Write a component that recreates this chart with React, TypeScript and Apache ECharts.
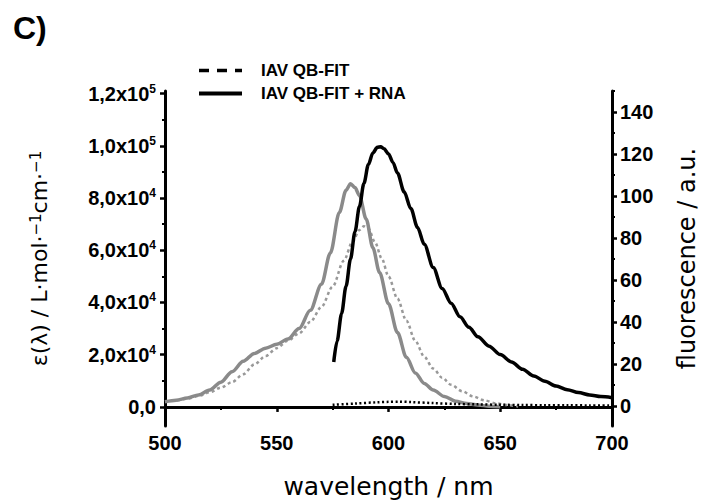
import React, { useEffect, useRef } from 'react';
import * as echarts from 'echarts';

// Absorbance, IAV QB-FIT (gray dashed) — wavelength (nm) / ε (L·mol⁻¹·cm⁻¹)
const absFreeWl = [500, 505, 510, 515, 520, 525, 530, 535, 540, 545, 550, 555, 560, 565, 570, 575, 580, 584, 587, 589, 591, 594, 597, 600, 604, 608, 612, 616, 620, 624, 628, 633, 638, 643, 648, 653, 658];
const absFree = [2000, 2500, 3200, 4200, 5600, 7400, 9500, 12500, 16300, 19500, 22500, 25400, 28200, 32500, 38300, 46100, 56000, 63500, 67800, 69200, 68300, 63000, 56800, 50000, 41500, 33000, 25300, 19200, 14700, 11200, 8500, 6000, 4000, 2500, 1400, 700, 200];

// Absorbance, IAV QB-FIT + RNA (gray solid)
const absRnaWl = [500, 505, 510, 515, 520, 525, 530, 535, 540, 545, 550, 555, 560, 565, 570, 574, 578, 581, 583, 585, 587, 590, 593, 596, 600, 604, 608, 612, 616, 620, 625, 630, 635, 640, 645, 650];
const absRna = [2000, 2600, 3400, 4600, 6500, 9500, 13500, 17500, 20500, 22500, 24000, 26000, 30000, 37000, 47000, 59000, 74500, 83000, 85500, 84000, 81000, 72000, 61000, 51500, 39500, 28500, 19000, 13000, 9000, 6500, 4000, 2200, 1300, 700, 300, 100];

// Fluorescence, IAV QB-FIT (black dotted)
const fluFreeWl = [575, 585, 595, 600, 605, 610, 620, 630, 640, 650, 660, 670, 680, 690, 700];
const fluFree = [0.6, 1.2, 1.8, 2.0, 2.1, 1.9, 1.4, 1.0, 0.8, 0.6, 0.5, 0.4, 0.4, 0.3, 0.3];

// Fluorescence, IAV QB-FIT + RNA (black solid)
const fluRnaWl = [575.5, 577, 579, 581, 583, 585, 587, 589, 591, 593, 595, 596.5, 598, 600, 602, 604, 607, 610, 613, 616, 620, 624, 628, 632, 636, 640, 645, 650, 655, 660, 665, 670, 675, 680, 685, 690, 695, 700];
const fluRna = [21, 31, 44, 57, 70, 83, 95, 106, 115, 120.5, 123.2, 123.5, 122.5, 120, 116, 111, 102, 94, 85, 77, 66, 56, 49, 42.5, 37.5, 33, 28.5, 24.5, 21, 17.5, 14.3, 11.8, 9.5, 7.8, 6.4, 5.3, 4.5, 4];

// Tick values
const xTicks = [500, 550, 600, 650, 700];
const leftMajor = [0, 20000, 40000, 60000, 80000, 100000, 120000];
const leftMinor = [10000, 30000, 50000, 70000, 90000, 110000];
const rightMajor = [0, 20, 40, 60, 80, 100, 120, 140];
const rightMinor = [10, 30, 50, 70, 90, 110, 130, 150];

const seriesNames = ['IAV QB-FIT', 'IAV QB-FIT + RNA'];

const zip = (xs: number[], ys: number[]) => xs.map((x, i) => [x, ys[i]]);

const ARIAL = '"Liberation Sans", Arial, sans-serif';
const NAMEFONT = '"DejaVu Sans", sans-serif';

const leftLabel = (v: number) => {
  if (v === 0) return '{b|0,0}';
  const e = Math.floor(Math.log10(v) + 1e-9);
  const m = (v / Math.pow(10, e)).toFixed(1).replace('.', ',');
  return `{b|${m}x10}{sup|${e}}`;
};

const hidden = { color: 'rgba(0,0,0,0)', borderColor: 'rgba(0,0,0,0)', borderWidth: 0, opacity: 0 };

export default function App() {
  const ref = useRef<HTMLDivElement>(null);
  useEffect(() => {
    document.body.style.margin = '0';
    const chart = echarts.init(ref.current!, null, { renderer: 'svg' });
    const axisLine = { show: true, lineStyle: { color: '#000', width: 3 } };
    const tickLabel = { color: '#000', fontSize: 20, fontWeight: 'bold' as const, fontFamily: ARIAL };
    chart.setOption({
      animation: false,
      backgroundColor: '#fff',
      grid: { left: 165, right: 93, top: 91, bottom: 78 },
      legend: {
        orient: 'vertical',
        left: 192,
        top: 57,
        itemWidth: 43,
        itemHeight: 17,
        itemGap: 6,
        selectedMode: false,
        textStyle: { color: '#000', fontSize: 17, fontWeight: 'bold', fontFamily: ARIAL, padding: [0, 0, 0, 14] },
        data: [
          { name: seriesNames[0], lineStyle: { color: '#000', width: 3.5, type: [10, 8] }, itemStyle: hidden },
          { name: seriesNames[1], lineStyle: { color: '#000', width: 4, type: 'solid' }, itemStyle: hidden },
        ],
      },
      graphic: [
        { type: 'text', left: 13, top: 12, style: { text: 'C)', font: `bold 32px ${ARIAL}`, fill: '#000' } },
      ],
      xAxis: {
        type: 'value',
        min: 500,
        max: 700,
        interval: 50,
        axisLine,
        axisTick: { show: true, length: 5, lineStyle: { color: '#000', width: 2.5 } },
        minorTick: { show: true, splitNumber: 2, length: 3, lineStyle: { color: '#000', width: 2 } },
        axisLabel: { ...tickLabel, margin: 7, customValues: xTicks },
        splitLine: { show: false },
        minorSplitLine: { show: false },
        name: 'wavelength / nm',
        nameLocation: 'middle',
        nameGap: 48,
        nameTextStyle: { color: '#000', fontSize: 25, fontFamily: NAMEFONT },
      },
      yAxis: [
        {
          type: 'value',
          position: 'left',
          min: -7300,
          max: 121000,
          axisLine,
          axisTick: { show: true, customValues: leftMajor, length: 5, lineStyle: { color: '#000', width: 2.5 } },
          axisLabel: {
            ...tickLabel,
            margin: 9,
            customValues: leftMajor,
            formatter: leftLabel,
            rich: {
              b: { fontSize: 20, fontWeight: 'bold', fontFamily: ARIAL, color: '#000', lineHeight: 22 },
              sup: { fontSize: 12, fontWeight: 'bold', fontFamily: ARIAL, color: '#000', lineHeight: 12, verticalAlign: 'top' },
            },
          },
          splitLine: { show: false },
          name: 'ε(λ) / L·mol·{sup|−1}cm·{sup|−1}',
          nameLocation: 'middle',
          nameRotate: 90,
          nameGap: 115,
          nameTextStyle: {
            color: '#000',
            fontSize: 22,
            fontFamily: NAMEFONT,
            rich: { sup: { fontSize: 15, fontFamily: NAMEFONT, color: '#000', verticalAlign: 'top', lineHeight: 15 } },
          },
        },
        {
          type: 'value',
          position: 'right',
          min: -9.5,
          max: 150,
          axisLine,
          axisTick: { show: true, customValues: rightMajor, length: 5, lineStyle: { color: '#000', width: 2.5 } },
          axisLabel: { ...tickLabel, margin: 8, customValues: rightMajor },
          splitLine: { show: false },
          name: 'fluorescence / a.u.',
          nameLocation: 'middle',
          nameRotate: 90,
          nameGap: 63,
          nameTextStyle: { color: '#000', fontSize: 24, fontFamily: NAMEFONT },
        },
        {
          type: 'value',
          position: 'left',
          min: -7300,
          max: 121000,
          axisLine: { show: false },
          axisTick: { show: true, customValues: leftMinor, length: 3, lineStyle: { color: '#000', width: 2 } },
          axisLabel: { show: false },
          splitLine: { show: false },
        },
        {
          type: 'value',
          position: 'right',
          min: -9.5,
          max: 150,
          axisLine: { show: false },
          axisTick: { show: true, customValues: rightMinor, length: 3, lineStyle: { color: '#000', width: 2 } },
          axisLabel: { show: false },
          splitLine: { show: false },
        },
      ],
      series: [
        {
          name: seriesNames[0], type: 'line', yAxisIndex: 0, data: zip(absFreeWl, absFree),
          symbol: 'none', smooth: 0.3, smoothMonotone: 'x',
          lineStyle: { color: '#999', width: 2.5, type: [3, 3] },
        },
        {
          name: seriesNames[1], type: 'line', yAxisIndex: 0, data: zip(absRnaWl, absRna),
          symbol: 'none', smooth: 0.3, smoothMonotone: 'x',
          lineStyle: { color: '#8a8a8a', width: 3.5 },
        },
        {
          name: seriesNames[0], type: 'line', yAxisIndex: 1, data: zip(fluFreeWl, fluFree),
          symbol: 'none', smooth: 0.3,
          lineStyle: { color: '#000', width: 2.5, type: [2, 2.5] },
        },
        {
          name: seriesNames[1], type: 'line', yAxisIndex: 1, data: zip(fluRnaWl, fluRna),
          symbol: 'none', smooth: 0.3, smoothMonotone: 'x',
          lineStyle: { color: '#000', width: 3.5 },
        },
      ],
    });
    return () => chart.dispose();
  }, []);
  return <div ref={ref} style={{ width: 707, height: 504 }} />;
}
